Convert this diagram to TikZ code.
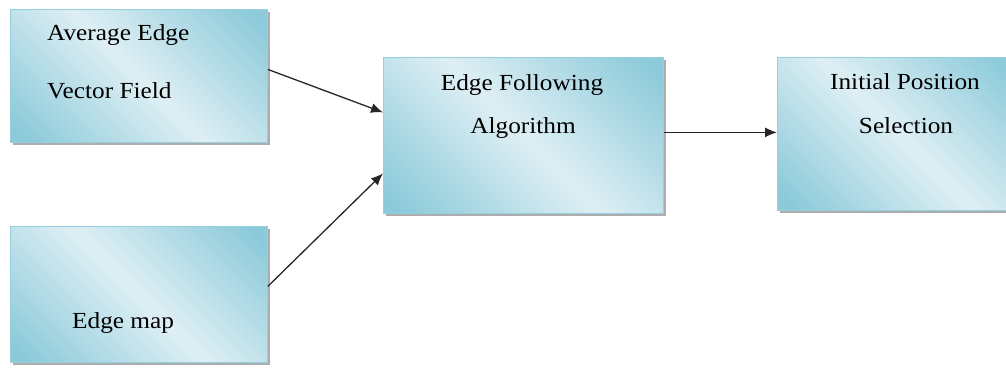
\documentclass[tikz,border=0pt]{standalone}
\usepackage{fontspec}
\setmainfont{Liberation Serif}[FakeStretch=1.1]
\usetikzlibrary{arrows.meta,shadows}

\definecolor{boxdark}{RGB}{140,202,218}
\definecolor{boxlight}{RGB}{222,239,244}
\definecolor{boxline}{RGB}{150,208,224}
\pgfdeclarehorizontalshading{boxshade}{100bp}{color(0bp)=(boxdark); color(18bp)=(boxdark); color(50bp)=(boxlight); color(82bp)=(boxdark); color(100bp)=(boxdark)}

\tikzset{
  blockbox/.style={draw=boxline, line width=0.8pt, shading=boxshade, shading angle=45,
    drop shadow={shadow xshift=3pt, shadow yshift=-3pt, fill=black!40, opacity=0.8},
    anchor=north west, inner sep=0pt},
  labeltext/.style={font=\fontsize{23}{28}\selectfont, inner sep=0pt},
  flowarrow/.style={line width=1.3pt, black!85, -{Latex[length=12pt,width=10pt]}}
}

\begin{document}
\begin{tikzpicture}[x=1pt,y=-1pt]
\useasboundingbox (0,0) rectangle (1006,367);

% blocks
\node[blockbox, minimum width=257pt, minimum height=133pt] (avgfield) at (10,9) {};
\node[blockbox, minimum width=257pt, minimum height=136pt] (edgemap) at (10,226) {};
\node[blockbox, minimum width=280pt, minimum height=156pt] (follow) at (383,57) {};
\node[blockbox, minimum width=240pt, minimum height=153pt] (initpos) at (777,57) {};

% texts
\node[labeltext, anchor=base west] (avgtxt) at (47,40) {Average Edge};
\node[labeltext, anchor=base west] (vectxt) at (47,98) {Vector Field};
\node[labeltext, anchor=base west] (maptxt) at (72,328) {Edge map};
\node[labeltext, anchor=base] (followtxt) at (522,90) {Edge Following};
\node[labeltext, anchor=base] (algotxt) at (523,133) {Algorithm};
\node[labeltext, anchor=base] (inittxt) at (905,89) {Initial Position};
\node[labeltext, anchor=base] (seltxt) at (906,133) {Selection};

% arrows
\draw[flowarrow] ([yshift=6.5pt]avgfield.east) -- ([yshift=23pt]follow.west);
\draw[flowarrow] ([yshift=8pt]edgemap.east) -- ([yshift=-38pt]follow.west);
\draw[flowarrow] ([yshift=3pt]follow.east) -- ([yshift=1.5pt]initpos.west);

\end{tikzpicture}
\end{document}
